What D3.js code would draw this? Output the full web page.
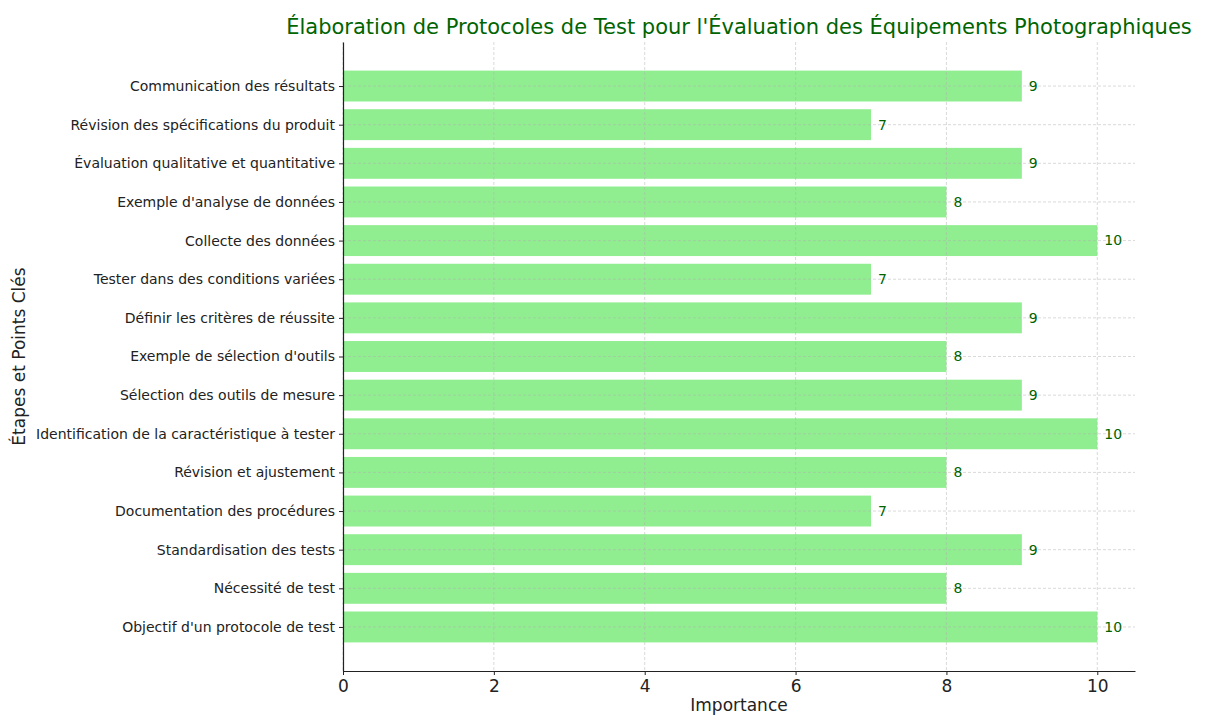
<!DOCTYPE html>
<html>
<head>
<meta charset="utf-8">
<script src="https://cdn.jsdelivr.net/npm/d3@7"></script>
<style>
  body { margin: 0; background: #fff; }
  text { font-family: "DejaVu Sans", sans-serif; }
</style>
</head>
<body>
<script>
// data, bottom to top as plotted
var steps = [
  "Objectif d'un protocole de test",
  "Nécessité de test",
  "Standardisation des tests",
  "Documentation des procédures",
  "Révision et ajustement",
  "Identification de la caractéristique à tester",
  "Sélection des outils de mesure",
  "Exemple de sélection d'outils",
  "Définir les critères de réussite",
  "Tester dans des conditions variées",
  "Collecte des données",
  "Exemple d'analyse de données",
  "Évaluation qualitative et quantitative",
  "Révision des spécifications du produit",
  "Communication des résultats"
];
var importance = [10, 8, 9, 7, 8, 10, 9, 8, 9, 7, 10, 8, 9, 7, 9];
var xTicks = [0, 2, 4, 6, 8, 10];

var width = 1207, height = 715;
var margin = { top: 42, right: 72, bottom: 44, left: 343 };
var w = width - margin.left - margin.right;
var h = height - margin.top - margin.bottom;

var svg = d3.select("body").append("svg")
    .attr("width", width)
    .attr("height", height);

var g = svg.append("g")
    .attr("transform", "translate(" + margin.left + "," + margin.top + ")");

var x = d3.scaleLinear().domain([0, 10.5]).range([0, w]);
// bars at integer positions with 0.8 height, 5% margins like matplotlib
var y = d3.scaleLinear().domain([-1.14, 15.14]).range([h, 0]);
var band = Math.abs(y(0.8) - y(0));

// bars
g.selectAll(".bar")
    .data(importance)
    .enter()
    .append("rect")
    .attr("class", "bar")
    .attr("x", x(0))
    .attr("y", function(d, i) { return y(i) - band / 2; })
    .attr("width", function(d) { return x(d) - x(0); })
    .attr("height", band)
    .attr("fill", "#90ee90");

// grid on top
var grid = g.append("g").attr("class", "grid");
grid.selectAll(".vg")
    .data(xTicks)
    .enter()
    .append("line")
    .attr("x1", function(d) { return x(d); })
    .attr("x2", function(d) { return x(d); })
    .attr("y1", 0)
    .attr("y2", h)
    .attr("stroke", "#b0b0b0")
    .attr("stroke-opacity", 0.6)
    .attr("stroke-width", 0.8)
    .attr("stroke-dasharray", "3,2");
grid.selectAll(".hg")
    .data(steps)
    .enter()
    .append("line")
    .attr("x1", 0)
    .attr("x2", w)
    .attr("y1", function(d, i) { return y(i); })
    .attr("y2", function(d, i) { return y(i); })
    .attr("stroke", "#b0b0b0")
    .attr("stroke-opacity", 0.6)
    .attr("stroke-width", 0.8)
    .attr("stroke-dasharray", "3,2");

// value labels
g.selectAll(".val")
    .data(importance)
    .enter()
    .append("text")
    .attr("x", function(d) { return x(d) + 7; })
    .attr("y", function(d, i) { return y(i); })
    .attr("dy", "0.35em")
    .attr("fill", "#006400")
    .style("font-size", "14px")
    .text(function(d) { return d; });

// x axis
var xAxis = g.append("g")
    .attr("transform", "translate(0," + h + ")")
    .call(d3.axisBottom(x).tickValues(xTicks).tickSize(4).tickSizeOuter(0).tickPadding(5));
xAxis.select(".domain").attr("stroke", "#222").attr("stroke-width", 1.2);
xAxis.selectAll("line").attr("stroke", "#222");
xAxis.selectAll("text").style("font-size", "17px").attr("fill", "#222");

// y axis
var yAxis = g.append("g")
    .call(d3.axisLeft(y)
      .tickValues(d3.range(steps.length))
      .tickFormat(function(i) { return steps[i]; })
      .tickSize(4).tickSizeOuter(0).tickPadding(4));
yAxis.select(".domain").attr("stroke", "#222").attr("stroke-width", 1.2);
yAxis.selectAll("line").attr("stroke", "#222");
yAxis.selectAll("text").style("font-size", "14px").attr("fill", "#222");

// axis titles
svg.append("text")
    .attr("x", margin.left + w / 2)
    .attr("y", 711)
    .attr("text-anchor", "middle")
    .attr("fill", "#222")
    .style("font-size", "17px")
    .text("Importance");

svg.append("text")
    .attr("transform", "translate(25," + (margin.top + h / 2) + ") rotate(-90)")
    .attr("text-anchor", "middle")
    .attr("fill", "#222")
    .style("font-size", "17px")
    .text("Étapes et Points Clés");

svg.append("text")
    .attr("x", margin.left + w / 2)
    .attr("y", 34)
    .attr("text-anchor", "middle")
    .attr("fill", "#006400")
    .style("font-size", "21px")
    .text("Élaboration de Protocoles de Test pour l'Évaluation des Équipements Photographiques");
</script>
</body>
</html>
